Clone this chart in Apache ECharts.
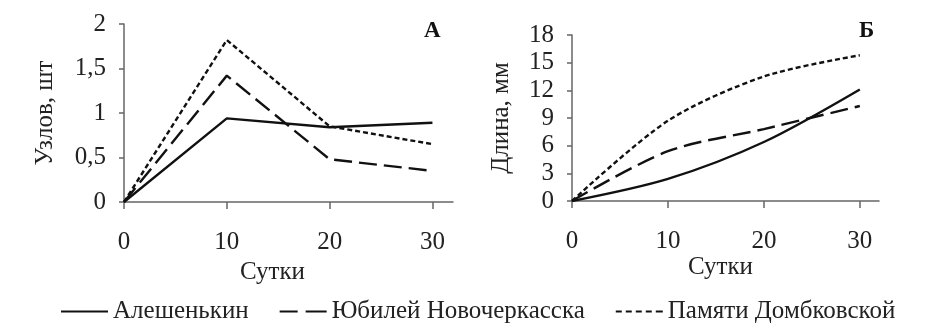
<!DOCTYPE html>
<html>
<head>
<meta charset="utf-8">
<script src="https://cdn.jsdelivr.net/npm/echarts@6/dist/echarts.min.js"></script>
<style>
  html, body { margin: 0; padding: 0; background: #fff; }
  #chart { width: 934px; height: 333px; }
</style>
</head>
<body>
<div id="chart"></div>
<script>
// данные
var days = [0, 10, 20, 30];
var seriesNames = ['Алешенькин', 'Юбилей Новочеркасска', 'Памяти Домбковской'];
// А: число узлов, шт
var nodesAlesh = [0, 0.94, 0.84, 0.89];
var nodesJubilee = [0, 1.42, 0.48, 0.35];
var nodesDomb = [0, 1.82, 0.85, 0.65];
// Б: длина, мм
var lenAlesh = [0, 2.4, 6.4, 12.1];
var lenJubilee = [0, 5.4, 7.8, 10.3];
var lenDomb = [0, 8.7, 13.5, 15.8];

var FONT = 'Liberation Serif, Times New Roman, serif';
var lineTypes = ['solid', [18, 7], [5, 3]];
// значки легенды: сплошная, штрих, пунктир
var legendIcons = [
    'path://M0,0H47V2H0Z',
    'path://M0,0H18V2H0Z M26,0H47V2H26Z',
    'path://M0,0H6V2H0Z M10,0H16V2H10Z M20,0H26V2H20Z M30,0H36V2H30Z M40,0H47V2H40Z'
];

function pairs(ys) {
    var out = [];
    for (var i = 0; i < days.length; i++) {
        out.push([days[i], ys[i]]);
    }
    return out;
}

function xAxisFor(gridIndex, namePad, nameGap) {
    return {
        type: 'value', gridIndex: gridIndex, min: 0, max: 32,
        name: 'Сутки', nameLocation: 'middle', nameGap: nameGap,
        nameTextStyle: { fontFamily: FONT, fontSize: 25, color: '#222', padding: namePad },
        axisLine: { lineStyle: { color: '#666', width: 1.5 } },
        axisTick: { show: true, length: 7, customValues: days, lineStyle: { color: '#666', width: 1.5 } },
        axisLabel: { customValues: days, margin: 28, fontFamily: FONT, fontSize: 25, color: '#222' },
        splitLine: { show: false }
    };
}

function yAxisFor(gridIndex, name, max, interval, nameGap) {
    return {
        type: 'value', gridIndex: gridIndex, min: 0, max: max, interval: interval,
        name: name, nameLocation: 'middle', nameGap: nameGap,
        nameTextStyle: { fontFamily: FONT, fontSize: 25, color: '#222' },
        axisLine: { show: true, lineStyle: { color: '#666', width: 1.5 } },
        axisTick: { show: true, length: 5, lineStyle: { color: '#666', width: 1.5 } },
        axisLabel: {
            margin: 18, fontFamily: FONT, fontSize: 25, color: '#222',
            formatter: function (v) { return String(v).replace('.', ','); }
        },
        splitLine: { show: false }
    };
}

function lineSeries(name, idx, xi, data, smooth) {
    return {
        name: name, type: 'line', xAxisIndex: xi, yAxisIndex: xi,
        data: pairs(data), symbol: 'none', smooth: smooth,
        lineStyle: { color: '#111', width: 2.4, type: lineTypes[idx] },
        itemStyle: { color: '#111' }
    };
}

var legendData = [];
for (var k = 0; k < seriesNames.length; k++) {
    legendData.push({ name: seriesNames[k], icon: legendIcons[k] });
}

var myChart = echarts.init(document.getElementById('chart'));
var option = {
    animation: false,
    backgroundColor: '#fff',
    grid: [
        { left: 124, top: 24, right: 481, bottom: 131 },
        { left: 572, top: 35, right: 55, bottom: 132 }
    ],
    xAxis: [xAxisFor(0, [0, 32, 0, 0], 52), xAxisFor(1, [0, 10, 0, 0], 46)],
    yAxis: [
        yAxisFor(0, 'Узлов, шт', 2, 0.5, 66),
        yAxisFor(1, 'Длина, мм', 18, 3, 58)
    ],
    legend: {
        data: legendData,
        left: 56, top: 294,
        itemWidth: 47, itemHeight: 2.5, itemGap: 31,
        itemStyle: { color: '#111' },
        textStyle: { fontFamily: FONT, fontSize: 25, color: '#222' }
    },
    graphic: [
        { type: 'text', left: 424, top: 20, style: { text: 'А', font: 'bold 23px ' + FONT, fill: '#111' } },
        { type: 'text', left: 859, top: 20, style: { text: 'Б', font: 'bold 23px ' + FONT, fill: '#111' } }
    ],
    series: [
        lineSeries(seriesNames[0], 0, 0, nodesAlesh, false),
        lineSeries(seriesNames[1], 1, 0, nodesJubilee, false),
        lineSeries(seriesNames[2], 2, 0, nodesDomb, false),
        lineSeries(seriesNames[0], 0, 1, lenAlesh, 0.3),
        lineSeries(seriesNames[1], 1, 1, lenJubilee, 0.3),
        lineSeries(seriesNames[2], 2, 1, lenDomb, 0.3)
    ]
};
myChart.setOption(option);
</script>
</body>
</html>
